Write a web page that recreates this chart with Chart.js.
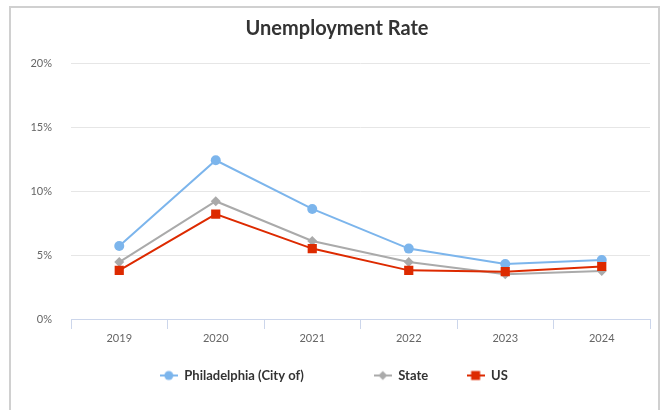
<!DOCTYPE html>
<html>
<head>
<meta charset="utf-8">
<script src="https://cdn.jsdelivr.net/npm/chart.js@4"></script>
<style>
  html, body { margin: 0; padding: 0; background: #fff; }
  #wrap { position: relative; width: 664px; height: 410px; overflow: hidden; }
  #frame { position: absolute; left: 9px; top: 6px; width: 651px; height: 420px;
           border: 2px solid #d0d0d0; box-sizing: border-box; }
  canvas { position: absolute; left: 0; top: 0; }
</style>
</head>
<body>
<div id="wrap">
  <div id="frame"></div>
  <canvas id="rateChart" width="664" height="410"></canvas>
</div>
<script>
var years = ['2019', '2020', '2021', '2022', '2023', '2024'];
var philly = [5.7, 12.4, 8.6, 5.5, 4.3, 4.6];
var state = [4.45, 9.2, 6.1, 4.45, 3.5, 3.75];
var us = [3.8, 8.2, 5.5, 3.8, 3.7, 4.1];
var yTicks = [0, 5, 10, 15, 20];

var FONT = 'Lato';

// small line + marker picture for each legend entry
function legendIcon(color, style) {
    var c = document.createElement('canvas');
    c.width = 18; c.height = 12;
    var g = c.getContext('2d');
    g.strokeStyle = color;
    g.lineWidth = 2;
    g.beginPath(); g.moveTo(0, 6); g.lineTo(18, 6); g.stroke();
    g.fillStyle = color;
    g.beginPath();
    if (style == 'circle') g.arc(9, 6, 4.5, 0, Math.PI * 2);
    if (style == 'rectRot') { g.moveTo(9, 1.5); g.lineTo(13.5, 6); g.lineTo(9, 10.5); g.lineTo(4.5, 6); }
    if (style == 'rect') g.rect(4.5, 1.5, 9, 9);
    g.fill();
    return c;
}

// trailing room after a legend label so the entries sit like the original
var measure = document.createElement('canvas').getContext('2d');
measure.font = 'bold 13px ' + FONT;
function padLabel(text, room) {
    var sp = measure.measureText(' ').width || 3;
    var n = Math.max(0, Math.round(room / sp));
    return text + ' '.repeat(n);
}

var datasets = [
    {
        label: 'Philadelphia (City of)',
        data: philly,
        borderColor: '#7cb5ec',
        pointStyle: 'circle',
        pointRadius: 5,
        order: 3,
        legendRoom: 61
    },
    {
        label: 'State',
        data: state,
        borderColor: '#aaaaaa',
        pointStyle: 'rectRot',
        pointRadius: 5,
        order: 2,
        legendRoom: 27
    },
    {
        label: 'US',
        data: us,
        borderColor: '#dd2a00',
        pointStyle: 'rect',
        pointRadius: 6.5,
        order: 1,
        legendRoom: 6
    }
];

var ctx = document.getElementById('rateChart').getContext('2d');
var chart = new Chart(ctx, {
    type: 'line',
    data: {
        labels: years,
        datasets: datasets.map(function (d) {
            return {
                label: d.label,
                data: d.data,
                borderColor: d.borderColor,
                backgroundColor: d.borderColor,
                pointStyle: d.pointStyle,
                pointRadius: d.pointRadius,
                pointHoverRadius: d.pointRadius,
                pointBorderWidth: 0,
                borderWidth: 2,
                tension: 0,
                order: d.order
            };
        })
    },
    options: {
        responsive: false,
        animation: false,
        layout: { padding: { left: 24, right: 14, top: 0, bottom: 18 } },
        plugins: {
            title: {
                display: true,
                text: 'Unemployment Rate',
                color: '#333333',
                font: { family: FONT, size: 20, weight: 'bold' },
                padding: { top: 17, bottom: 22 }
            },
            legend: {
                position: 'bottom',
                labels: {
                    usePointStyle: true,
                    pointStyleWidth: 18,
                    padding: 10,
                    color: '#333333',
                    font: { family: FONT, size: 13, weight: 'bold' },
                    generateLabels: function (ch) {
                        return datasets.map(function (d, i) {
                            return {
                                text: padLabel(d.label, d.legendRoom),
                                fillStyle: d.borderColor,
                                strokeStyle: d.borderColor,
                                fontColor: '#333333',
                                lineWidth: 0,
                                pointStyle: legendIcon(d.borderColor, d.pointStyle),
                                hidden: !ch.isDatasetVisible(i),
                                datasetIndex: i
                            };
                        });
                    }
                }
            },
            tooltip: { enabled: false }
        },
        scales: {
            x: {
                offset: true,
                grid: {
                    offset: true,
                    drawOnChartArea: false,
                    tickLength: 10,
                    color: '#ccd6eb'
                },
                border: { color: '#ccd6eb' },
                ticks: {
                    padding: 3,
                    color: '#666666',
                    font: { family: FONT, size: 11 }
                },
                afterFit: function (s) { s.height = 40; }
            },
            y: {
                min: yTicks[0],
                max: yTicks[yTicks.length - 1],
                grid: { color: '#e6e6e6', drawTicks: false },
                border: { display: false },
                afterBuildTicks: function (s) {
                    s.ticks = yTicks.map(function (v) { return { value: v }; });
                },
                ticks: {
                    padding: 19,
                    color: '#666666',
                    font: { family: FONT, size: 11 },
                    callback: function (v) { return v + '%'; }
                },
                afterFit: function (s) { s.width = 47; }
            }
        }
    }
});
</script>
</body>
</html>
